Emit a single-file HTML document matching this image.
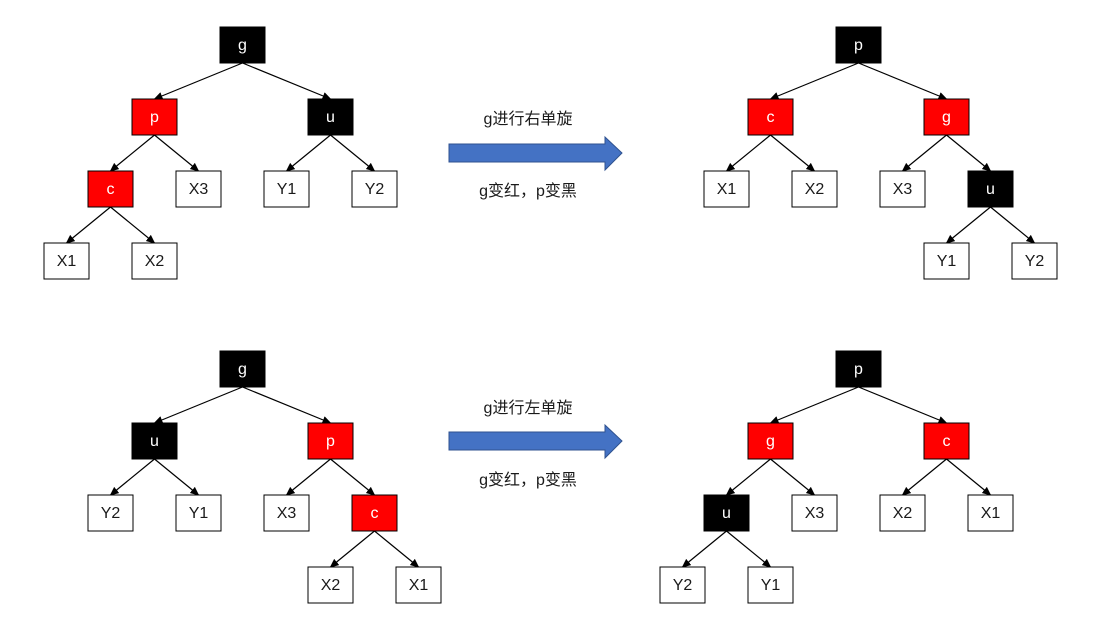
<!DOCTYPE html>
<html><head><meta charset="utf-8"><style>
html,body{margin:0;padding:0;background:#fff;}
svg{display:block;}
text{font-family:"Liberation Sans","Noto Sans CJK SC",sans-serif;font-size:16px;text-anchor:middle;}
.w{fill:#fff;stroke:#000;stroke-width:1;}
.b{fill:#000;stroke:#000;}
.r{fill:#ff0000;stroke:#000;stroke-width:1;}
.tw{fill:#fff;}
.tk{fill:#1a1a1a;}
line{stroke:#000;stroke-width:1.2;}
</style></head><body>
<svg width="1102" height="636" viewBox="0 0 1102 636" xmlns="http://www.w3.org/2000/svg">
<defs><marker id="a" markerWidth="10" markerHeight="10" refX="8" refY="4" orient="auto" markerUnits="userSpaceOnUse"><path d="M0,0 L9,4 L0,8 z" fill="#000"/></marker></defs>

<!-- Top-left edges -->
<line x1="242.5" y1="63" x2="154.5" y2="99" marker-end="url(#a)"/>
<line x1="242.5" y1="63" x2="330.5" y2="99" marker-end="url(#a)"/>
<line x1="154.5" y1="135" x2="110.5" y2="171" marker-end="url(#a)"/>
<line x1="154.5" y1="135" x2="198.5" y2="171" marker-end="url(#a)"/>
<line x1="330.5" y1="135" x2="286.5" y2="171" marker-end="url(#a)"/>
<line x1="330.5" y1="135" x2="374.5" y2="171" marker-end="url(#a)"/>
<line x1="110.5" y1="207" x2="66.5" y2="243" marker-end="url(#a)"/>
<line x1="110.5" y1="207" x2="154.5" y2="243" marker-end="url(#a)"/>
<!-- Top-left nodes -->
<rect class="b" x="220" y="27" width="45" height="36"/><text class="tw" x="242.5" y="50">g</text>
<rect class="r" x="132" y="99" width="45" height="36"/><text class="tw" x="154.5" y="122">p</text>
<rect class="b" x="308" y="99" width="45" height="36"/><text class="tw" x="330.5" y="122">u</text>
<rect class="r" x="88" y="171" width="45" height="36"/><text class="tw" x="110.5" y="194">c</text>
<rect class="w" x="176" y="171" width="45" height="36"/><text class="tk" x="198.5" y="194">X3</text>
<rect class="w" x="264" y="171" width="45" height="36"/><text class="tk" x="286.5" y="194">Y1</text>
<rect class="w" x="352" y="171" width="45" height="36"/><text class="tk" x="374.5" y="194">Y2</text>
<rect class="w" x="44" y="243" width="45" height="36"/><text class="tk" x="66.5" y="266">X1</text>
<rect class="w" x="132" y="243" width="45" height="36"/><text class="tk" x="154.5" y="266">X2</text>

<!-- Top arrow -->
<text class="tk" x="528" y="124">g进行右单旋</text>
<polygon points="449,144 605,144 605,137 622,153 605,170 605,162 449,162" fill="#4472c4" stroke="#2f528f" stroke-width="1"/>
<text class="tk" x="528" y="196">g变红，p变黑</text>

<!-- Top-right edges -->
<line x1="858.5" y1="63" x2="770.5" y2="99" marker-end="url(#a)"/>
<line x1="858.5" y1="63" x2="946.5" y2="99" marker-end="url(#a)"/>
<line x1="770.5" y1="135" x2="726.5" y2="171" marker-end="url(#a)"/>
<line x1="770.5" y1="135" x2="814.5" y2="171" marker-end="url(#a)"/>
<line x1="946.5" y1="135" x2="902.5" y2="171" marker-end="url(#a)"/>
<line x1="946.5" y1="135" x2="990.5" y2="171" marker-end="url(#a)"/>
<line x1="990.5" y1="207" x2="946.5" y2="243" marker-end="url(#a)"/>
<line x1="990.5" y1="207" x2="1034.5" y2="243" marker-end="url(#a)"/>
<rect class="b" x="836" y="27" width="45" height="36"/><text class="tw" x="858.5" y="50">p</text>
<rect class="r" x="748" y="99" width="45" height="36"/><text class="tw" x="770.5" y="122">c</text>
<rect class="r" x="924" y="99" width="45" height="36"/><text class="tw" x="946.5" y="122">g</text>
<rect class="w" x="704" y="171" width="45" height="36"/><text class="tk" x="726.5" y="194">X1</text>
<rect class="w" x="792" y="171" width="45" height="36"/><text class="tk" x="814.5" y="194">X2</text>
<rect class="w" x="880" y="171" width="45" height="36"/><text class="tk" x="902.5" y="194">X3</text>
<rect class="b" x="968" y="171" width="45" height="36"/><text class="tw" x="990.5" y="194">u</text>
<rect class="w" x="924" y="243" width="45" height="36"/><text class="tk" x="946.5" y="266">Y1</text>
<rect class="w" x="1012" y="243" width="45" height="36"/><text class="tk" x="1034.5" y="266">Y2</text>

<!-- Bottom-left edges -->
<line x1="242.5" y1="387" x2="154.5" y2="423" marker-end="url(#a)"/>
<line x1="242.5" y1="387" x2="330.5" y2="423" marker-end="url(#a)"/>
<line x1="154.5" y1="459" x2="110.5" y2="495" marker-end="url(#a)"/>
<line x1="154.5" y1="459" x2="198.5" y2="495" marker-end="url(#a)"/>
<line x1="330.5" y1="459" x2="286.5" y2="495" marker-end="url(#a)"/>
<line x1="330.5" y1="459" x2="374.5" y2="495" marker-end="url(#a)"/>
<line x1="374.5" y1="531" x2="330.5" y2="567" marker-end="url(#a)"/>
<line x1="374.5" y1="531" x2="418.5" y2="567" marker-end="url(#a)"/>
<rect class="b" x="220" y="351" width="45" height="36"/><text class="tw" x="242.5" y="374">g</text>
<rect class="b" x="132" y="423" width="45" height="36"/><text class="tw" x="154.5" y="446">u</text>
<rect class="r" x="308" y="423" width="45" height="36"/><text class="tw" x="330.5" y="446">p</text>
<rect class="w" x="88" y="495" width="45" height="36"/><text class="tk" x="110.5" y="518">Y2</text>
<rect class="w" x="176" y="495" width="45" height="36"/><text class="tk" x="198.5" y="518">Y1</text>
<rect class="w" x="264" y="495" width="45" height="36"/><text class="tk" x="286.5" y="518">X3</text>
<rect class="r" x="352" y="495" width="45" height="36"/><text class="tw" x="374.5" y="518">c</text>
<rect class="w" x="308" y="567" width="45" height="36"/><text class="tk" x="330.5" y="590">X2</text>
<rect class="w" x="396" y="567" width="45" height="36"/><text class="tk" x="418.5" y="590">X1</text>

<!-- Bottom arrow -->
<text class="tk" x="528" y="413">g进行左单旋</text>
<polygon points="449,432 605,432 605,425 622,441 605,458 605,450 449,450" fill="#4472c4" stroke="#2f528f" stroke-width="1"/>
<text class="tk" x="528" y="485">g变红，p变黑</text>

<!-- Bottom-right edges -->
<line x1="858.5" y1="387" x2="770.5" y2="423" marker-end="url(#a)"/>
<line x1="858.5" y1="387" x2="946.5" y2="423" marker-end="url(#a)"/>
<line x1="770.5" y1="459" x2="726.5" y2="495" marker-end="url(#a)"/>
<line x1="770.5" y1="459" x2="814.5" y2="495" marker-end="url(#a)"/>
<line x1="946.5" y1="459" x2="902.5" y2="495" marker-end="url(#a)"/>
<line x1="946.5" y1="459" x2="990.5" y2="495" marker-end="url(#a)"/>
<line x1="726.5" y1="531" x2="682.5" y2="567" marker-end="url(#a)"/>
<line x1="726.5" y1="531" x2="770.5" y2="567" marker-end="url(#a)"/>
<rect class="b" x="836" y="351" width="45" height="36"/><text class="tw" x="858.5" y="374">p</text>
<rect class="r" x="748" y="423" width="45" height="36"/><text class="tw" x="770.5" y="446">g</text>
<rect class="r" x="924" y="423" width="45" height="36"/><text class="tw" x="946.5" y="446">c</text>
<rect class="b" x="704" y="495" width="45" height="36"/><text class="tw" x="726.5" y="518">u</text>
<rect class="w" x="792" y="495" width="45" height="36"/><text class="tk" x="814.5" y="518">X3</text>
<rect class="w" x="880" y="495" width="45" height="36"/><text class="tk" x="902.5" y="518">X2</text>
<rect class="w" x="968" y="495" width="45" height="36"/><text class="tk" x="990.5" y="518">X1</text>
<rect class="w" x="660" y="567" width="45" height="36"/><text class="tk" x="682.5" y="590">Y2</text>
<rect class="w" x="748" y="567" width="45" height="36"/><text class="tk" x="770.5" y="590">Y1</text>
</svg>
</body></html>
